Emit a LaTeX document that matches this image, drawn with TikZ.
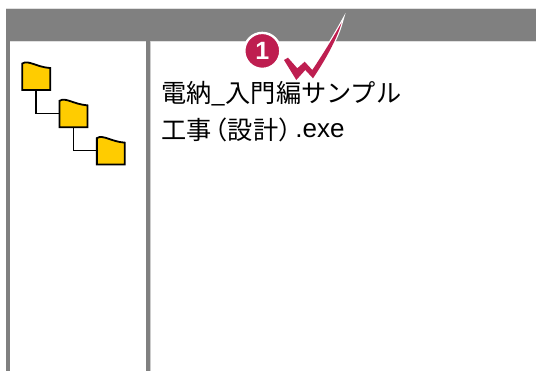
\documentclass[tikz,border=0pt]{standalone}
\usepackage{fontspec}
\setmainfont{Liberation Sans}
\newfontfamily\cjk{Noto Sans CJK JP}
\usetikzlibrary{calc}
\definecolor{bandgray}{RGB}{128,128,128}
\definecolor{folderfill}{RGB}{255,204,0}
\definecolor{badgered}{RGB}{190,30,80}
\tikzset{
  x=1pt,y=-1pt,
  panelbar/.style={fill=bandgray,draw=none},
  foldernode/.style={inner sep=0pt,minimum width=27.5pt,minimum height=27.5pt,draw=none},
  foldershape/.style={draw=black,line width=1.8pt,fill=folderfill,line join=miter},
  treeline/.style={draw=black,line width=1.5pt},
  badge/.style={circle,fill=badgered,draw=white,line width=2.4pt,minimum size=36pt,inner sep=0pt,text=white,font=\fontsize{25}{25}\selectfont\bfseries},
  caption/.style={anchor=base west,inner sep=0pt,font=\fontsize{25.2}{25.2}\selectfont},
  checkmark/.style={fill=badgered,preaction={draw=white,line width=2.4pt,line join=miter,miter limit=10}}
}
\newcommand{\folderat}[3]{%
  \node[foldernode] (#1) at (#2,#3) {};
  \draw[foldershape] (#1.south west) -- ($(#1.north west)+(0,1.5)$)
    .. controls ($(#1.north west)+(6,-2.5)$) and ($(#1.north west)+(14,5)$) .. ($(#1.north east)+(0,6)$)
    -- (#1.south east) -- cycle;
}
\begin{document}
\begin{tikzpicture}
\useasboundingbox (0,0) rectangle (536,371);
\fill[white] (0,0) rectangle (536,371);
\draw[line width=0.8pt,black!12] (6,8.5) -- (536,8.5);
\draw[line width=0.8pt,black!12] (6,41.6) -- (536,41.6);
\fill[panelbar] (6,9) rectangle (536,41);
\fill[panelbar] (6,41) rectangle (10,371);
\fill[panelbar] (145.5,41) rectangle (149.5,371);
\fill[black!20] (149.5,41) rectangle (150,371);
% folders
\folderat{fa}{36.2}{76}
\folderat{fb}{73.5}{113.3}
\folderat{fc}{110.8}{150.6}
\draw[treeline] (fa.south) |- (fb.west);
\draw[treeline] (fb.south) |- (fc.west);
% text
\node[caption] (lineone) at (161,102.5) {\cjk 電納\_入門編サンプル};
\node[caption] (linetwo) at (161,138) {\raisebox{-1.5pt}{\cjk 工事\kern-9pt（設計）\kern-9pt}\kern1pt{\fontsize{26}{26}\selectfont\normalfont.exe}};
% check mark
\path[checkmark] (284,60) -- (288,57.7) -- (297.3,68.3) -- (304.7,61.7) -- (312.3,70)
  .. controls (321,57) and (333,38) .. (341.6,22.5)
  .. controls (338,36) and (328,56) .. (313,78.3)
  -- (305.3,70) -- (296.3,80) -- cycle;
\node[badge] (mark) at (262.3,50.9) {1};
\end{tikzpicture}
\end{document}
